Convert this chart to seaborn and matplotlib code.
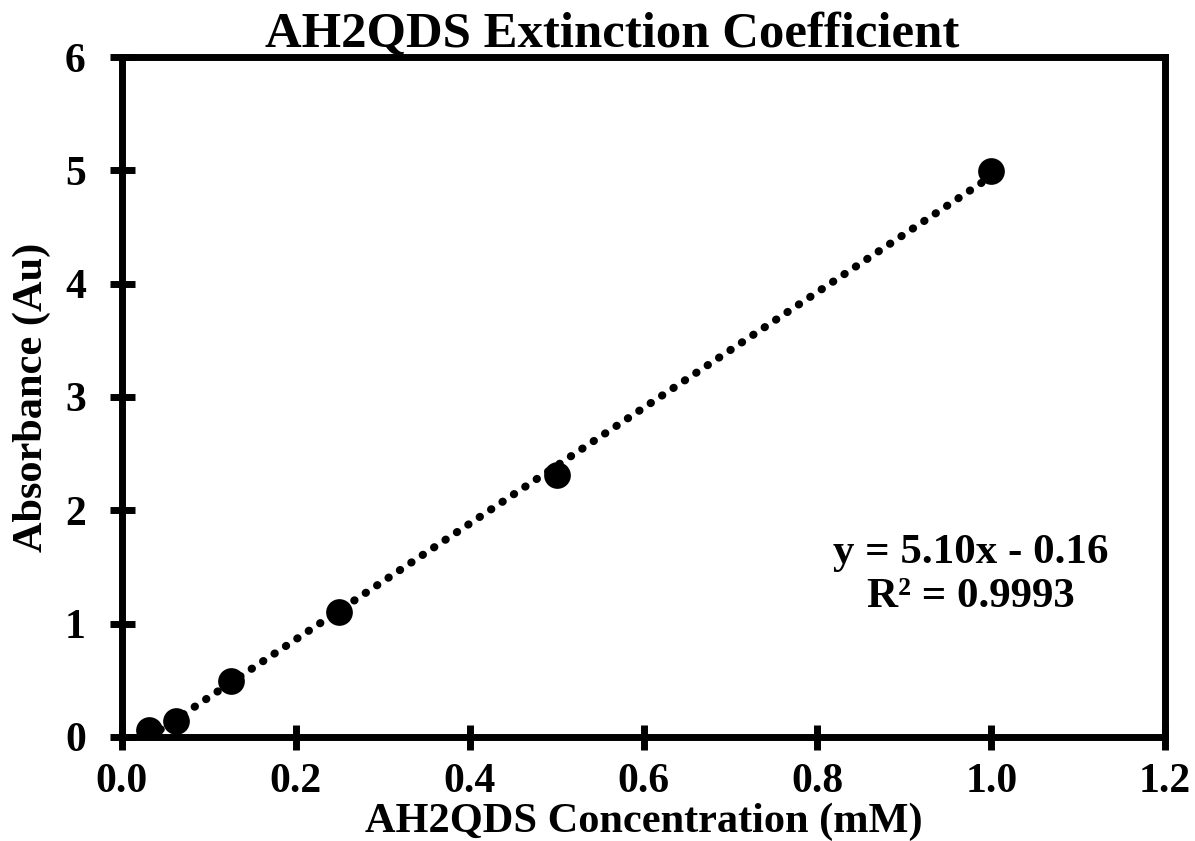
import numpy as np
import pandas as pd
import matplotlib
matplotlib.use("Agg")
import matplotlib.pyplot as plt
import seaborn as sns

concentration = [0.03125, 0.0625, 0.125, 0.25, 0.5, 1.0]
absorbance = [0.06, 0.14, 0.49, 1.10, 2.31, 4.99]
x_ticks = [0.0, 0.2, 0.4, 0.6, 0.8, 1.0, 1.2]
y_ticks = [0, 1, 2, 3, 4, 5, 6]
title = "AH2QDS Extinction Coefficient"
x_label = "AH2QDS Concentration (mM)"
y_label = "Absorbance (Au)"
equation = "y = 5.10x - 0.16\nR² = 0.9993"

df = pd.DataFrame({"conc": concentration, "abs": absorbance})

sns.set_style("ticks")
plt.rcParams['font.family'] = ['Liberation Serif', 'DejaVu Serif']
plt.rcParams['font.weight'] = 'bold'
plt.rcParams['text.color'] = 'black'
plt.rcParams['axes.labelcolor'] = 'black'
plt.rcParams['xtick.color'] = 'black'
plt.rcParams['ytick.color'] = 'black'

fig = plt.figure(figsize=(11.95, 8.41), dpi=100)
ax = fig.add_axes([0.102, 0.1237, 0.873, 0.8085])

sns.regplot(data=df, x="conc", y="abs", ax=ax, ci=None, truncate=True,
            scatter_kws=dict(s=370, color="black", edgecolor="black", linewidths=0,
                             alpha=1, zorder=3),
            line_kws=dict(color="black", lw=5.8, linestyle=(0, (0.05, 1.65)),
                          dash_capstyle="round", zorder=2))

ax.set_xlim(0, 1.2)
ax.set_ylim(0, 6)
ax.set_xticks(x_ticks)
ax.set_yticks(y_ticks)
ax.set_xticklabels([f"{v:.1f}" for v in x_ticks], fontsize=30, fontweight="bold")
ax.set_yticklabels([f"{v:d}" for v in y_ticks], fontsize=30, fontweight="bold")
ax.tick_params(direction="inout", length=18, width=5, colors="black")
ax.tick_params(axis="x", pad=10)
ax.tick_params(axis="y", pad=17)
for s in ax.spines.values():
    s.set_linewidth(5)
    s.set_color("black")
    s.set_visible(True)

ax.set_xlabel(x_label, fontsize=30.5, fontweight="bold", labelpad=1, color="black")
ax.set_ylabel(y_label, fontsize=30.5, fontweight="bold", labelpad=10, color="black")
ax.set_title(title, fontsize=36.5, fontweight="bold", pad=2, x=0.47, color="black")

ax.text(0.976, 1.43, equation, ha="center", va="center", fontsize=31,
        fontweight="bold", linespacing=1.2, color="black")

fig.savefig("out.png", dpi=100)
